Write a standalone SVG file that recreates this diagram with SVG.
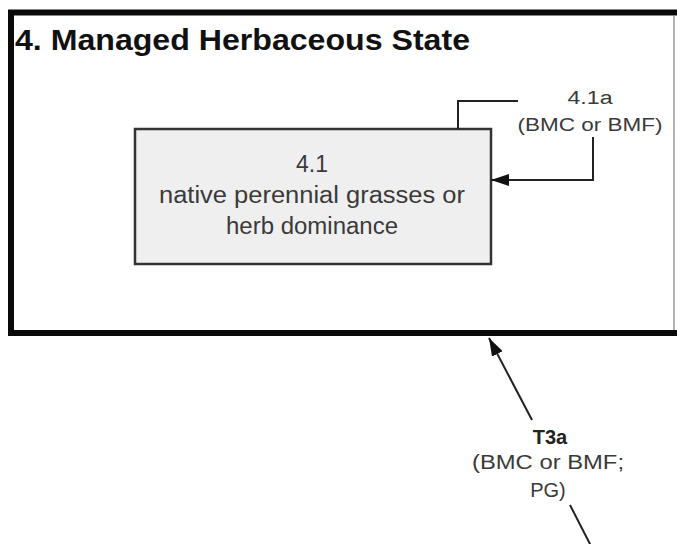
<svg xmlns="http://www.w3.org/2000/svg" width="677" height="544" viewBox="0 0 677 544">
<defs>
<style>
.lbl{font-family:"Liberation Sans",Arial,sans-serif;fill:#3a3a3a;text-anchor:middle}
.conn{stroke:#222;stroke-width:2;fill:none}
</style>
<marker id="ah2" viewBox="0 0 18 12" refX="18" refY="6" markerWidth="18" markerHeight="12" markerUnits="userSpaceOnUse" orient="auto">
<path d="M0,0 L18,6 L0,12 z" fill="#111"/>
</marker>
</defs>
<rect width="677" height="544" fill="#ffffff"/>
<g id="state4">
<rect x="11" y="12.5" width="690" height="320.5" fill="#ffffff" stroke="#0a0a0a" stroke-width="6"/>
<line x1="674" y1="16" x2="674" y2="330" stroke="#9a9a9a" stroke-width="1.5"/>
<text x="15" y="50" font-family="Liberation Sans,Arial,sans-serif" font-weight="bold" font-size="30" fill="#111" textLength="455" lengthAdjust="spacingAndGlyphs">4. Managed Herbaceous State</text>
</g>
<g id="phase41">
<rect x="135" y="129" width="356" height="135" fill="#efefef" stroke="#333" stroke-width="2.5"/>
<text class="lbl" x="312" y="172" font-size="23">4.1</text>
<text class="lbl" x="312" y="203" font-size="23" textLength="306" lengthAdjust="spacingAndGlyphs">native perennial grasses or</text>
<text class="lbl" x="312" y="234" font-size="23" textLength="172" lengthAdjust="spacingAndGlyphs">herb dominance</text>
</g>
<g id="connectors">
<polyline class="conn" points="458,129 458,101 518,101"/>
<polyline class="conn" points="593,137 593,180 491,180" marker-end="url(#ah2)"/>
<line class="conn" x1="532" y1="420" x2="489" y2="338" marker-end="url(#ah2)"/>
<line class="conn" x1="591" y1="546" x2="570" y2="505"/>
</g>
<g id="labels">
<text class="lbl" x="590" y="104" font-size="18" textLength="45" lengthAdjust="spacingAndGlyphs">4.1a</text>
<text class="lbl" x="590" y="131" font-size="18" textLength="145" lengthAdjust="spacingAndGlyphs">(BMC or BMF)</text>
<text class="lbl" x="550" y="444" font-size="20" font-weight="bold" style="fill:#222">T3a</text>
<text class="lbl" x="548" y="469" font-size="20" textLength="152" lengthAdjust="spacingAndGlyphs">(BMC or BMF;</text>
<text class="lbl" x="548" y="497" font-size="20">PG)</text>
</g>
</svg>
